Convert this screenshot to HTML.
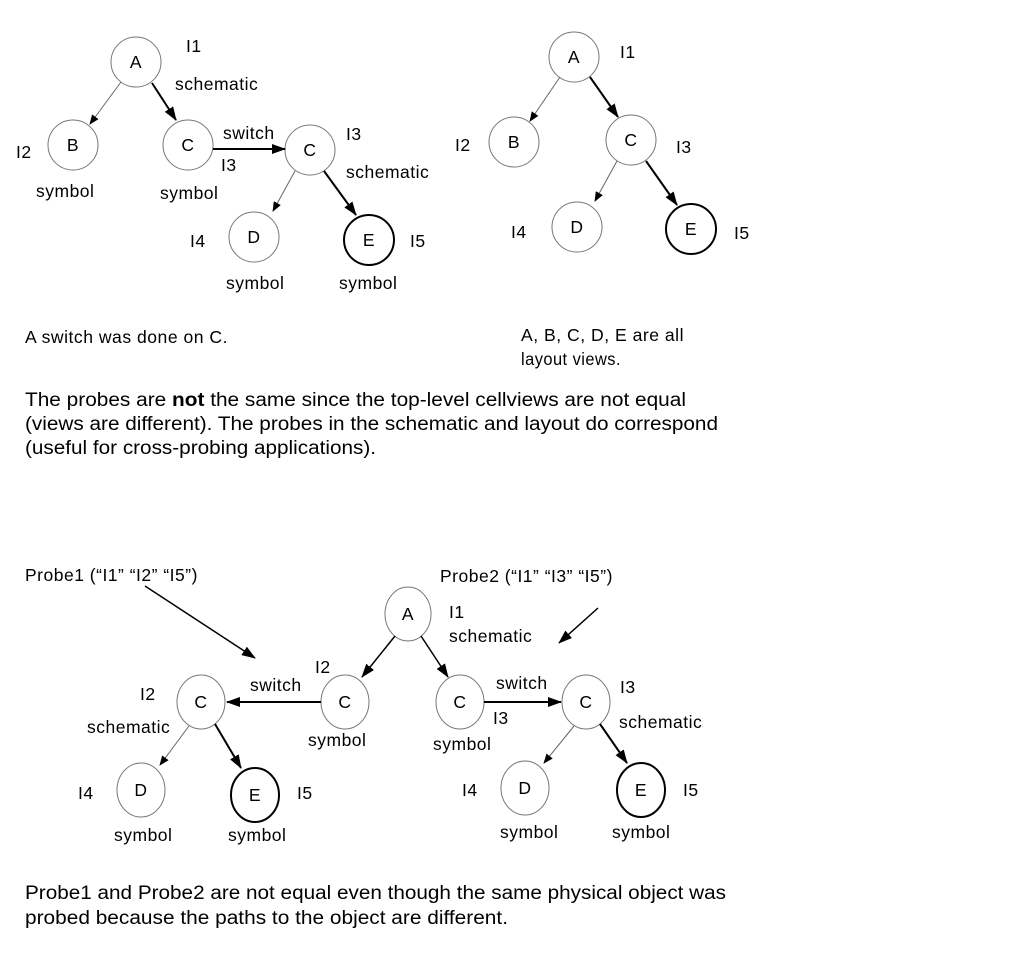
<!DOCTYPE html>
<html><head><meta charset="utf-8"><style>
html,body{margin:0;padding:0;background:#fff;width:1013px;height:969px;overflow:hidden}
svg text{font-family:"Liberation Sans",sans-serif;fill:#000}
.n{text-anchor:middle}
</style></head><body>
<svg width="1013" height="969" viewBox="0 0 1013 969" xmlns="http://www.w3.org/2000/svg">
<defs>
<marker id="ah" markerWidth="10" markerHeight="8" refX="9" refY="4" orient="auto" markerUnits="userSpaceOnUse"><path d="M0,0 L10,4 L0,8 z" fill="#000"/></marker>
<marker id="ahb" markerWidth="14" markerHeight="10" refX="13" refY="5" orient="auto" markerUnits="userSpaceOnUse"><path d="M0,0 L14,5 L0,10 z" fill="#000"/></marker>
</defs>
<g font-size="17.5" letter-spacing="0.5">
<!-- top-left -->
<g fill="none" stroke="#777" stroke-width="1">
<circle cx="136" cy="62" r="25"/><circle cx="73" cy="145" r="25"/><circle cx="188" cy="145" r="25"/>
<circle cx="310" cy="150" r="25"/><circle cx="254" cy="237" r="25"/>
</g>
<circle cx="369" cy="240" r="25" fill="none" stroke="#000" stroke-width="2"/>
<line x1="121" y1="82" x2="90" y2="124" stroke="#666" stroke-width="1" marker-end="url(#ah)"/>
<line x1="152" y1="83" x2="176" y2="120" stroke="#000" stroke-width="2" marker-end="url(#ahb)"/>
<line x1="213" y1="149" x2="285" y2="149" stroke="#000" stroke-width="2" marker-end="url(#ahb)"/>
<line x1="295" y1="171" x2="273" y2="211" stroke="#666" stroke-width="1" marker-end="url(#ah)"/>
<line x1="324" y1="171" x2="356" y2="215" stroke="#000" stroke-width="2" marker-end="url(#ahb)"/>
<text class="n" x="136" y="68">A</text><text class="n" x="73" y="151">B</text><text class="n" x="188" y="151">C</text><text class="n" x="310" y="156">C</text><text class="n" x="254" y="243">D</text><text class="n" x="369" y="246">E</text>
<text x="186" y="52">I1</text><text x="175" y="90">schematic</text><text x="16" y="158">I2</text><text x="36" y="197">symbol</text>
<text x="160" y="199">symbol</text><text x="223" y="139">switch</text><text x="221" y="171">I3</text><text x="346" y="140">I3</text>
<text x="346" y="178">schematic</text><text x="190" y="247">I4</text><text x="410" y="247">I5</text><text x="226" y="289">symbol</text><text x="339" y="289">symbol</text>
<!-- top-right -->
<g fill="none" stroke="#777" stroke-width="1">
<circle cx="574" cy="57" r="25"/><circle cx="514" cy="142" r="25"/><circle cx="631" cy="140" r="25"/><circle cx="577" cy="227" r="25"/>
</g>
<circle cx="691" cy="229" r="25" fill="none" stroke="#000" stroke-width="2"/>
<line x1="560" y1="77" x2="530" y2="121" stroke="#666" stroke-width="1" marker-end="url(#ah)"/>
<line x1="590" y1="77" x2="618" y2="117" stroke="#000" stroke-width="2" marker-end="url(#ahb)"/>
<line x1="617" y1="161" x2="595" y2="201" stroke="#666" stroke-width="1" marker-end="url(#ah)"/>
<line x1="646" y1="161" x2="677" y2="205" stroke="#000" stroke-width="2" marker-end="url(#ahb)"/>
<text class="n" x="574" y="63">A</text><text class="n" x="514" y="148">B</text><text class="n" x="631" y="146">C</text><text class="n" x="577" y="233">D</text><text class="n" x="691" y="235">E</text>
<text x="620" y="58">I1</text><text x="455" y="151">I2</text><text x="676" y="153">I3</text><text x="511" y="238">I4</text><text x="734" y="239">I5</text>
<!-- bottom -->
<g fill="none" stroke="#777" stroke-width="1">
<ellipse cx="408" cy="614" rx="23" ry="27"/><ellipse cx="201" cy="702" rx="24" ry="27"/><ellipse cx="345" cy="702" rx="24" ry="27"/>
<ellipse cx="460" cy="702" rx="24" ry="27"/><ellipse cx="586" cy="702" rx="24" ry="27"/>
<ellipse cx="141" cy="790" rx="24" ry="27"/><ellipse cx="525" cy="788" rx="24" ry="27"/>
</g>
<g fill="none" stroke="#000" stroke-width="2"><ellipse cx="255" cy="795" rx="24" ry="27"/><ellipse cx="641" cy="790" rx="24" ry="27"/></g>
<line x1="145" y1="586" x2="255" y2="658" stroke="#000" stroke-width="1.5" marker-end="url(#ahb)"/>
<line x1="598" y1="608" x2="559" y2="643" stroke="#000" stroke-width="1.5" marker-end="url(#ahb)"/>
<line x1="395" y1="636" x2="362" y2="677" stroke="#000" stroke-width="1.5" marker-end="url(#ahb)"/>
<line x1="421" y1="636" x2="448" y2="677" stroke="#000" stroke-width="1.5" marker-end="url(#ahb)"/>
<line x1="321" y1="702" x2="227" y2="702" stroke="#000" stroke-width="2" marker-end="url(#ahb)"/>
<line x1="484" y1="702" x2="561" y2="702" stroke="#000" stroke-width="2" marker-end="url(#ahb)"/>
<line x1="189" y1="726" x2="160" y2="765" stroke="#666" stroke-width="1" marker-end="url(#ah)"/>
<line x1="215" y1="724" x2="241" y2="768" stroke="#000" stroke-width="2" marker-end="url(#ahb)"/>
<line x1="574" y1="726" x2="544" y2="763" stroke="#666" stroke-width="1" marker-end="url(#ah)"/>
<line x1="600" y1="724" x2="627" y2="763" stroke="#000" stroke-width="2" marker-end="url(#ahb)"/>
<text class="n" x="408" y="620">A</text><text class="n" x="201" y="708">C</text><text class="n" x="345" y="708">C</text><text class="n" x="460" y="708">C</text><text class="n" x="586" y="708">C</text>
<text class="n" x="141" y="796">D</text><text class="n" x="255" y="801">E</text><text class="n" x="525" y="794">D</text><text class="n" x="641" y="796">E</text>
<text x="25" y="581">Probe1 (“I1” “I2” “I5”)</text><text x="440" y="582">Probe2 (“I1” “I3” “I5”)</text>
<text x="449" y="618">I1</text><text x="449" y="642">schematic</text><text x="315" y="673">I2</text><text x="250" y="691">switch</text>
<text x="140" y="700">I2</text><text x="87" y="733">schematic</text><text x="308" y="746">symbol</text><text x="433" y="750">symbol</text>
<text x="496" y="689">switch</text><text x="493" y="724">I3</text><text x="620" y="693">I3</text><text x="619" y="728">schematic</text>
<text x="78" y="799">I4</text><text x="297" y="799">I5</text><text x="114" y="841">symbol</text><text x="228" y="841">symbol</text>
<text x="462" y="796">I4</text><text x="683" y="796">I5</text><text x="500" y="838">symbol</text><text x="612" y="838">symbol</text>
<text x="25" y="343" textLength="203" lengthAdjust="spacingAndGlyphs">A switch was done on C.</text>
<text x="521" y="341" textLength="163" lengthAdjust="spacingAndGlyphs">A, B, C, D, E are all</text><text x="521" y="365" textLength="100" lengthAdjust="spacingAndGlyphs">layout views.</text>
</g>
<g font-size="19">
<text x="25" y="406" textLength="661" lengthAdjust="spacingAndGlyphs">The probes are <tspan font-weight="bold">not</tspan> the same since the top-level cellviews are not equal</text>
<text x="25" y="430" textLength="693" lengthAdjust="spacingAndGlyphs">(views are different). The probes in the schematic and layout do correspond</text>
<text x="25" y="454" textLength="351" lengthAdjust="spacingAndGlyphs">(useful for cross-probing applications).</text>
<text x="25" y="899" textLength="701" lengthAdjust="spacingAndGlyphs">Probe1 and Probe2 are not equal even though the same physical object was</text>
<text x="25" y="924" textLength="483" lengthAdjust="spacingAndGlyphs">probed because the paths to the object are different.</text>
</g>
</svg>
</body></html>
